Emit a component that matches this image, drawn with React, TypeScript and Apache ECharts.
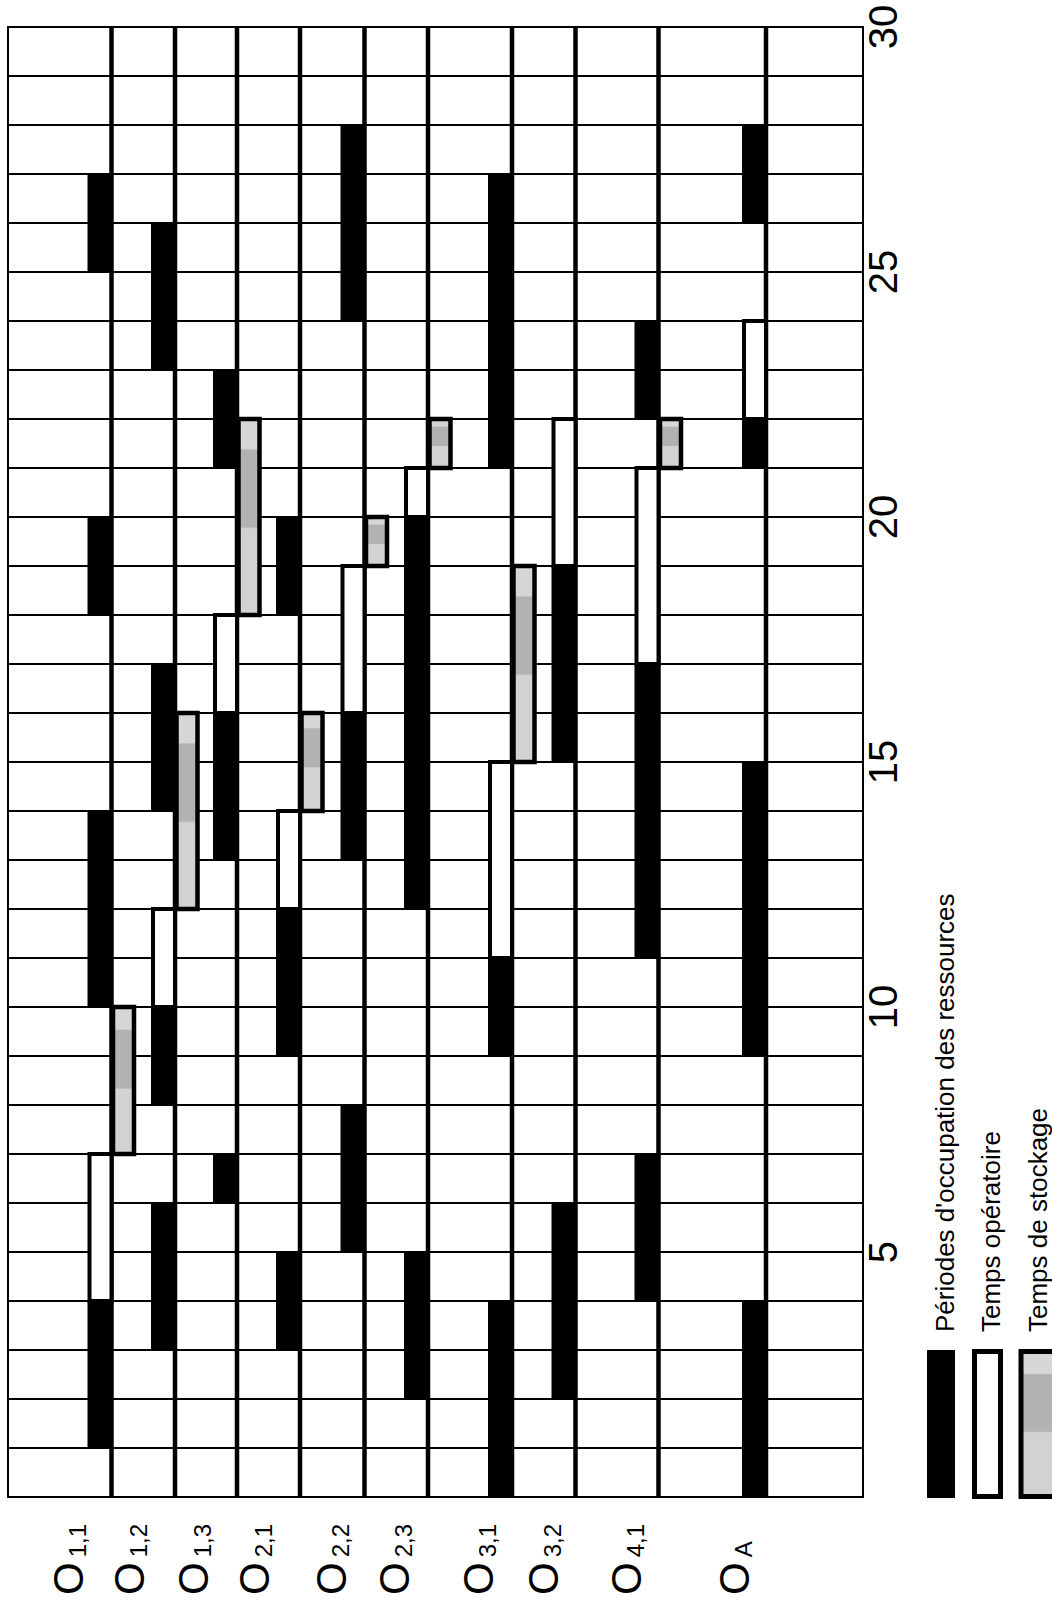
import React, { useEffect, useRef } from 'react';
import * as echarts from 'echarts';

// ---------------- data ----------------
const OPERATIONS = ['O1,1', 'O1,2', 'O1,3', 'O2,1', 'O2,2', 'O2,3', 'O3,1', 'O3,2', 'O4,1', 'OA'];
const OP_SUBSCRIPTS = ['1,1', '1,2', '1,3', '2,1', '2,2', '2,3', '3,1', '3,2', '4,1', 'A'];
const TIME_MIN = 0;
const TIME_MAX = 30;
const TIME_TICK_LABELS = [5, 10, 15, 20, 25, 30];

// Périodes d'occupation des ressources  [operation, start, end]
const OCCUPATION: [string, number, number][] = [
  ['O1,1', 1, 4], ['O1,1', 10, 14], ['O1,1', 18, 20], ['O1,1', 25, 27],
  ['O1,2', 3, 6], ['O1,2', 8, 10], ['O1,2', 14, 17], ['O1,2', 23, 26],
  ['O1,3', 6, 7], ['O1,3', 13, 16], ['O1,3', 21, 23],
  ['O2,1', 3, 5], ['O2,1', 9, 12], ['O2,1', 18, 20],
  ['O2,2', 5, 8], ['O2,2', 13, 16], ['O2,2', 24, 28],
  ['O2,3', 2, 5], ['O2,3', 12, 20],
  ['O3,1', 0, 4], ['O3,1', 9, 11], ['O3,1', 21, 27],
  ['O3,2', 2, 6], ['O3,2', 15, 19],
  ['O4,1', 4, 7], ['O4,1', 11, 17], ['O4,1', 22, 24],
  ['OA', 0, 4], ['OA', 9, 15], ['OA', 21, 22], ['OA', 26, 28],
];

// Temps opératoire  [operation, start, end]
const OPERATING: [string, number, number][] = [
  ['O1,1', 4, 7], ['O1,2', 10, 12], ['O1,3', 16, 18],
  ['O2,1', 12, 14], ['O2,2', 16, 19], ['O2,3', 20, 21],
  ['O3,1', 11, 15], ['O3,2', 19, 22],
  ['O4,1', 17, 21],
  ['OA', 22, 24],
];

// Temps de stockage  [operation, start, end]
const STORAGE: [string, number, number][] = [
  ['O1,1', 7, 10], ['O1,2', 12, 16], ['O1,3', 18, 22],
  ['O2,1', 14, 16], ['O2,2', 19, 20], ['O2,3', 21, 22],
  ['O3,1', 15, 19],
  ['O4,1', 21, 22],
];

const LEGEND_LABELS = ["Périodes d'occupation des ressources", 'Temps opératoire', 'Temps de stockage'];

// ---------------- layout / style ----------------
const FONT = "'Liberation Sans', Arial, Helvetica, sans-serif";
const X_SPAN = 855; // horizontal axis units (1 unit = 1 px)
const ROW_LINE_X = [103.5, 167, 229, 292, 356.5, 420, 504, 567.5, 650.5, 758];
const LABEL_BASELINE_X = [79, 140, 204, 265, 342, 405, 489, 554, 637, 745];
const BAR_W = 24;

const grayFill = () =>
  new echarts.graphic.LinearGradient(0, 0, 0, 1, [
    { offset: 0, color: '#d6d6d6' },
    { offset: 0.15, color: '#d6d6d6' },
    { offset: 0.16, color: '#b2b2b2' },
    { offset: 0.55, color: '#b2b2b2' },
    { offset: 0.56, color: '#d2d2d2' },
    { offset: 1, color: '#d2d2d2' },
  ]);

const toRows = (arr: [string, number, number][]) =>
  arr.map(([op, s, e]) => [OPERATIONS.indexOf(op), s, e]);

export default function App() {
  const ref = useRef<HTMLDivElement>(null);

  useEffect(() => {
    document.body.style.margin = '0';
    if (!ref.current) return;
    const chart = echarts.init(ref.current, undefined, { renderer: 'svg' });

    const barRect = (kind: 'occ' | 'op' | 'sto') => (params: any, api: any) => {
      const i = api.value(0);
      const s = api.value(1);
      const e = api.value(2);
      const pTop = api.coord([ROW_LINE_X[i], e]);
      const pBot = api.coord([ROW_LINE_X[i], s]);
      const h = pBot[1] - pTop[1];
      if (kind === 'occ') {
        return {
          type: 'rect',
          shape: { x: pTop[0] - BAR_W, y: pTop[1], width: BAR_W, height: h },
          style: { fill: '#000' },
        };
      }
      if (kind === 'op') {
        return {
          type: 'rect',
          shape: { x: pTop[0] - BAR_W + 2, y: pTop[1], width: BAR_W - 2, height: h },
          style: { fill: '#fff', stroke: '#000', lineWidth: 4 },
        };
      }
      return {
        type: 'rect',
        shape: { x: pTop[0] + 1.5, y: pTop[1], width: BAR_W - 3, height: h },
        style: { fill: grayFill(), stroke: '#000', lineWidth: 4.5 },
      };
    };

    const option: any = {
      animation: false,
      backgroundColor: '#fff',
      grid: {
        left: 8,
        top: 27,
        width: X_SPAN,
        height: 1470,
        show: true,
        borderColor: '#000',
        borderWidth: 2,
        backgroundColor: 'transparent',
      },
      xAxis: { type: 'value', min: 0, max: X_SPAN, show: false },
      yAxis: {
        type: 'value',
        position: 'right',
        min: TIME_MIN,
        max: TIME_MAX,
        interval: 1,
        axisLine: { show: true, onZero: false, lineStyle: { color: '#000', width: 2 } },
        axisTick: { show: false },
        splitLine: { show: true, lineStyle: { color: '#000', width: 2 } },
        axisLabel: {
          rotate: 90,
          margin: 0,
          fontSize: 40,
          fontFamily: FONT,
          color: '#000',
          formatter: (v: number) => (TIME_TICK_LABELS.includes(v) ? String(v) : ''),
        },
      },
      graphic: [
        { type: 'rect', shape: { x: 927, y: 1350, width: 28, height: 148 }, style: { fill: '#000' } },
        {
          type: 'rect',
          shape: { x: 974.5, y: 1351.5, width: 26, height: 145 },
          style: { fill: '#fff', stroke: '#000', lineWidth: 5 },
        },
        {
          type: 'rect',
          shape: { x: 1021, y: 1351.5, width: 36, height: 145 },
          style: { fill: grayFill(), stroke: '#000', lineWidth: 5 },
        },
        ...LEGEND_LABELS.map((t, k) => ({
          type: 'text',
          x: [958, 1004, 1051][k],
          y: 1332,
          rotation: Math.PI / 2,
          style: {
            text: t,
            fill: '#000',
            fontSize: 26,
            fontFamily: FONT,
            align: 'left',
            textAlign: 'left',
            verticalAlign: 'bottom',
            textVerticalAlign: 'bottom',
          },
        })),
      ],
      series: [
        {
          type: 'custom',
          name: 'rows',
          z: 2,
          data: OPERATIONS.map((_, i) => [i]),
          renderItem: (params: any, api: any) => {
            const i = api.value(0);
            const top = api.coord([ROW_LINE_X[i], TIME_MAX]);
            const bot = api.coord([ROW_LINE_X[i], TIME_MIN]);
            const lblX = api.coord([LABEL_BASELINE_X[i], TIME_MIN])[0];
            return {
              type: 'group',
              children: [
                {
                  type: 'line',
                  shape: { x1: top[0], y1: top[1] - 1, x2: bot[0], y2: bot[1] + 1 },
                  style: { stroke: '#000', lineWidth: 4.5 },
                },
                {
                  type: 'text',
                  x: lblX + 2,
                  y: bot[1] + 98,
                  rotation: Math.PI / 2,
                  style: {
                    text: `{o|O}{s|${OP_SUBSCRIPTS[i]}}`,
                    fill: '#000',
                    align: 'left',
                    textAlign: 'left',
                    verticalAlign: 'bottom',
                    textVerticalAlign: 'bottom',
                    rich: {
                      o: { fontSize: 42, fontFamily: FONT, fill: '#000', verticalAlign: 'bottom' },
                      s: {
                        fontSize: 24,
                        fontFamily: FONT,
                        fill: '#000',
                        verticalAlign: 'bottom',
                        padding: [0, 0, 0, 5],
                      },
                    },
                  },
                },
              ],
            };
          },
        },
        { type: 'custom', name: 'occupation', z: 3, data: toRows(OCCUPATION), renderItem: barRect('occ') },
        { type: 'custom', name: 'operating', z: 4, data: toRows(OPERATING), renderItem: barRect('op') },
        { type: 'custom', name: 'storage', z: 4, data: toRows(STORAGE), renderItem: barRect('sto') },
      ],
    };

    chart.setOption(option);
    return () => chart.dispose();
  }, []);

  return <div ref={ref} style={{ width: 1052, height: 1603 }} />;
}
